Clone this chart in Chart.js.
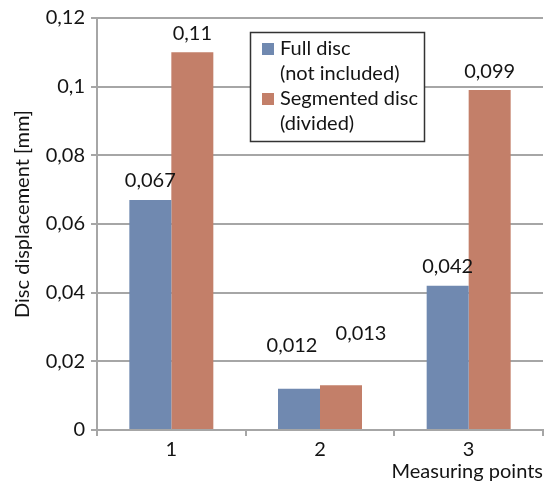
<!DOCTYPE html>
<html>
<head>
<meta charset="utf-8">
<script src="https://cdn.jsdelivr.net/npm/chart.js@4/dist/chart.umd.min.js"></script>
<style>
  html, body { margin: 0; padding: 0; background: #fff; }
  #wrap { width: 544px; height: 484px; position: relative; }
</style>
</head>
<body>
<div id="wrap"><canvas id="c" width="544" height="484"></canvas></div>
<script>
// Measuring points and displacement values (mm)
const categories = ['1', '2', '3'];
const fullDisc = [0.067, 0.012, 0.042];
const segmentedDisc = [0.11, 0.013, 0.099];
const seriesNames = [['Full disc', '(not included)'], ['Segmented disc', '(divided)']];
const yTicks = [0, 0.02, 0.04, 0.06, 0.08, 0.1, 0.12];
const yTitle = 'Disc displacement [mm]';
const xTitle = 'Measuring points';

const FONT = 'Lato, "Open Sans", sans-serif';
const FS = 20;
const TEXT = '#141414';
const GRID = '#a6a6a6';
const BLUE = '#7089b0';
const ORANGE = '#c37f69';

const fmt = v => parseFloat(v.toFixed(3)).toString().replace('.', ',');

// value labels above bars; the middle pair is lifted and spread apart
const labelShift = {
  '0-1': { dx: -7, dy: -43 },
  '1-1': { dx: 20, dy: -52 }
};

const valueLabels = {
  id: 'valueLabels',
  afterDatasetsDraw(chart) {
    const ctx = chart.ctx;
    ctx.save();
    ctx.font = FS + 'px ' + FONT;
    ctx.fillStyle = TEXT;
    ctx.textAlign = 'center';
    ctx.textBaseline = 'middle';
    chart.data.datasets.forEach((ds, di) => {
      chart.getDatasetMeta(di).data.forEach((bar, i) => {
        const s = labelShift[di + '-' + i] || { dx: 0, dy: -19 };
        ctx.fillText(fmt(ds.data[i]), bar.x + s.dx, bar.y + s.dy);
      });
    });
    ctx.restore();
  }
};

// rotated value-axis title, sitting slightly above the plot's middle
const sideTitle = {
  id: 'sideTitle',
  afterDraw(chart) {
    const ctx = chart.ctx;
    const area = chart.chartArea;
    ctx.save();
    ctx.translate(23, (area.top + area.bottom) / 2 - 10);
    ctx.rotate(-Math.PI / 2);
    ctx.font = FS + 'px ' + FONT;
    ctx.fillStyle = TEXT;
    ctx.textAlign = 'center';
    ctx.textBaseline = 'middle';
    ctx.fillText(yTitle, 0, 0);
    ctx.restore();
  }
};

// boxed legend with two-line entries
const boxLegend = {
  id: 'boxLegend',
  afterDraw(chart) {
    const ctx = chart.ctx;
    const x0 = 250, y0 = 32, w = 174, h = 109;
    ctx.save();
    ctx.fillStyle = '#fff';
    ctx.fillRect(x0, y0, w, h);
    ctx.strokeStyle = '#333';
    ctx.lineWidth = 1.5;
    ctx.strokeRect(x0 + 0.5, y0 + 0.5, w, h);
    ctx.font = FS + 'px ' + FONT;
    ctx.textBaseline = 'middle';
    ctx.textAlign = 'left';
    chart.data.datasets.forEach((ds, di) => {
      const top = y0 + 17 + di * 50;
      ctx.fillStyle = ds.backgroundColor;
      ctx.fillRect(x0 + 12, top - 6, 12, 12);
      ctx.fillStyle = TEXT;
      ds.label.forEach((line, li) => {
        ctx.fillText(line, x0 + 30, top + li * 25);
      });
    });
    ctx.restore();
  }
};

new Chart(document.getElementById('c'), {
  type: 'bar',
  data: {
    labels: categories,
    datasets: [
      { label: seriesNames[0], data: fullDisc, backgroundColor: BLUE },
      { label: seriesNames[1], data: segmentedDisc, backgroundColor: ORANGE }
    ]
  },
  options: {
    responsive: false,
    animation: false,
    layout: { padding: { top: 15, right: 1, left: 0, bottom: 0 } },
    plugins: { legend: { display: false }, tooltip: { enabled: false } },
    datasets: { bar: { categoryPercentage: 0.565, barPercentage: 1 } },
    scales: {
      x: {
        grid: { drawOnChartArea: false, drawTicks: true, tickLength: 6, color: GRID, lineWidth: 2 },
        border: { color: GRID, width: 2 },
        ticks: { color: TEXT, font: { family: FONT, size: FS }, padding: 2 },
        title: { display: true, text: xTitle, align: 'end', color: TEXT, font: { family: FONT, size: FS }, padding: { top: 0, bottom: 0 } },
        afterFit(scale) { scale.height = 54; }
      },
      y: {
        min: 0, max: 0.12,
        afterBuildTicks(scale) { scale.ticks = yTicks.map(v => ({ value: v })); },
        grid: { color: GRID, lineWidth: 2, tickLength: 6 },
        border: { color: GRID, width: 2 },
        ticks: { color: TEXT, font: { family: FONT, size: FS }, padding: 6, callback: v => fmt(v) },
        afterFit(scale) { scale.width = 97; }
      }
    }
  },
  plugins: [valueLabels, sideTitle, boxLegend]
});
</script>
</body>
</html>
